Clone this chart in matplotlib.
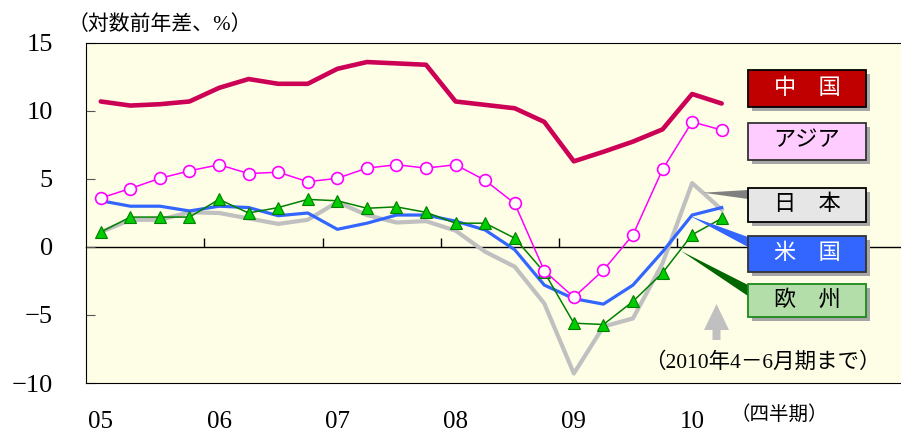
import numpy as np
import matplotlib.pyplot as plt
from matplotlib.patches import Rectangle, Polygon

plt.rcParams['font.family'] = ['Liberation Serif', 'Noto Sans CJK JP']

# quarterly data, 2005Q1 - 2010Q2
china = [10.7, 10.4, 10.5, 10.7, 11.7, 12.35, 12.0, 12.0, 13.1, 13.6, 13.5, 13.4,
         10.7, 10.45, 10.2, 9.2, 6.3, 7.0, 7.75, 8.65, 11.25, 10.55]
asia = [3.6, 4.3, 5.05, 5.6, 6.05, 5.4, 5.5, 4.8, 5.05, 5.8, 6.05, 5.8,
        6.05, 4.9, 3.2, -1.75, -3.7, -1.7, 0.9, 5.7, 9.2, 8.6]
japan = [1.1, 2.0, 2.0, 2.55, 2.5, 2.1, 1.7, 2.0, 3.3, 2.35, 1.8, 1.9,
         1.2, -0.35, -1.45, -4.15, -9.3, -5.85, -5.25, -1.2, 4.7, 2.75]
us = [3.4, 3.0, 3.0, 2.65, 3.0, 2.9, 2.3, 2.5, 1.3, 1.75, 2.35, 2.35,
      1.9, 1.25, -0.2, -2.8, -3.8, -4.2, -2.8, -0.35, 2.35, 2.9]
europe = [1.1, 2.2, 2.2, 2.2, 3.5, 2.5, 2.9, 3.5, 3.4, 2.85, 2.95, 2.55,
          1.75, 1.75, 0.65, -1.85, -5.6, -5.7, -4.0, -1.9, 0.9, 2.1]
years = ['05', '06', '07', '08', '09', '10']
yticks = [15, 10, 5, 0, -5, -10]

W, H = 901, 433
fig = plt.figure(figsize=(W / 100, H / 100), dpi=100)
ax = fig.add_axes([86 / W, 1 - 383 / H, (905 - 86) / W, 340 / H])
ax.set_facecolor('#FEFEE6')

x = np.arange(len(china))
ax.plot(x, japan, color='#C0C0C0', lw=3.0, zorder=3)
ax.plot(x, us, color='#3366FF', lw=2.3, zorder=4)
ax.plot(x, europe, color='#008000', lw=1.1, marker='^', ms=8,
        mfc='#00CC00', mec='#008000', mew=0.8, zorder=5)
ax.plot(x, asia, color='#FF00FF', lw=1.1, marker='o', ms=8.5,
        mfc='white', mec='#FF00FF', mew=1.2, zorder=6)
ax.plot(x, china, color='#CC0055', lw=3.3, zorder=7, solid_capstyle='round')

ax.set_xlim(-0.5, 27.2)
ax.set_ylim(-10, 15)
ax.set_yticks(yticks)
ax.set_yticklabels([str(v).replace('-', '\u2212') for v in yticks], fontsize=19)
ax.tick_params(axis='y', direction='in', length=6.5, pad=24, color='#555555')
ax.set_xticks(np.arange(len(years)) * 4)
ax.set_xticklabels(years, fontsize=18)
ax.tick_params(axis='x', length=0, pad=20)
ax.spines['right'].set_visible(False)

# zero line with year ticks
zero = ax.secondary_xaxis(10 / 25)
zero.set_xticks(np.arange(1, len(years)) * 4 - 0.5)
zero.tick_params(direction='in', length=6.5, labelbottom=False, width=1)
zero.spines['bottom'].set_linewidth(1.0)

def fp(px, py):
    return (px / W, 1 - py / H)

fig.text(*fp(68, 25), '（対数前年差、%）', fontsize=15, va='center', ha='left')
fig.text(*fp(730, 414), '（四半期）', fontsize=14, va='center', ha='left')
ax.text(*fp(762, 363), '（2010年4－6月期まで）', transform=fig.transFigure,
        fontsize=15.5, ha='center', va='center', zorder=10)

# leader wedges
wedges = [
    ([(703, 192.7), (748, 190), (748, 199)], '#808080'),
    ([(690, 216), (748, 237), (748, 247)], '#3366FF'),
    ([(681, 251), (748, 285), (748, 296)], '#006600'),
]
for pts, c in wedges:
    ax.add_patch(Polygon([fp(*p) for p in pts], closed=True, transform=fig.transFigure,
                         fc=c, ec='none', zorder=8, clip_on=False))

# legend boxes
boxes = [
    ('中　国', 70, 107, '#C00000', '#000000', 'white'),
    ('アジア', 123, 160, '#FFCCFF', '#333333', 'black'),
    ('日　本', 188, 222, '#E6E6E6', '#000000', 'black'),
    ('米　国', 236, 272, '#3366FF', '#333333', 'white'),
    ('欧　州', 284, 317, '#B3DEAA', '#1A8A1A', 'black'),
]
for label, y0, y1, fc, ec, tc in boxes:
    x0, x1 = 748, 866
    sx, sy = fp(x0 + 4, y1 + 4)
    ax.add_patch(Rectangle((sx, sy), (x1 - x0) / W, (y1 - y0) / H,
                           transform=fig.transFigure, fc='#A6A6A6', ec='none',
                           zorder=8, clip_on=False))
    bx, by = fp(x0, y1)
    ax.add_patch(Rectangle((bx, by), (x1 - x0) / W, (y1 - y0) / H,
                           transform=fig.transFigure, fc=fc, ec=ec, lw=1.3,
                           zorder=9, clip_on=False))
    ax.text(*fp((x0 + x1) / 2, (y0 + y1) / 2), label, transform=fig.transFigure,
            fontsize=16, color=tc, ha='center', va='center', zorder=10)

# gray up arrow
arrow = [(712.5, 340), (720.5, 340), (720.5, 330), (729, 330), (716.5, 304),
         (704, 330), (712.5, 330)]
ax.add_patch(Polygon([fp(*p) for p in arrow], closed=True, transform=fig.transFigure,
                     fc='#C0C0C0', ec='none', zorder=8, clip_on=False))

fig.savefig('out.png', dpi=100)
